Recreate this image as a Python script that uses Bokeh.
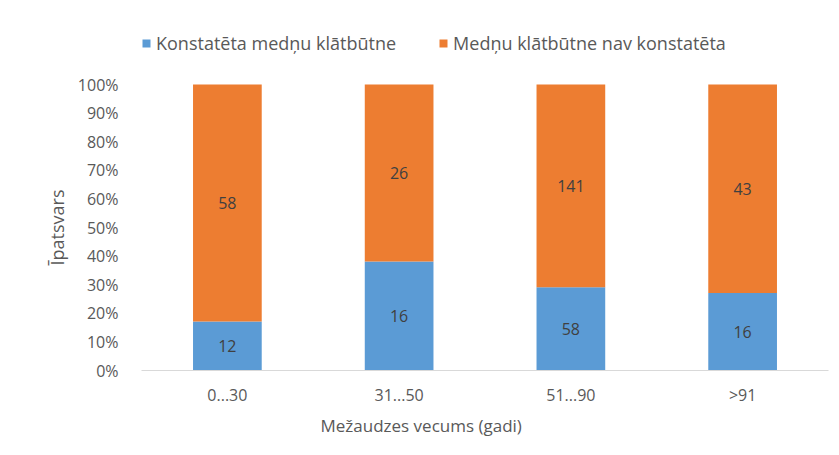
from bokeh.plotting import figure
from bokeh.models import ColumnDataSource, Legend, LegendItem, FixedTicker, NumeralTickFormatter, Range1d, FactorRange, LabelSet, Title
from bokeh.core.properties import value
from bokeh.embed import file_html
from bokeh.resources import INLINE

categories = ["0...30", "31...50", "51...90", ">91"]
present = [12, 16, 58, 16]
absent = [58, 26, 141, 43]
series_names = ["Konstatēta medņu klātbūtne", "Medņu klātbūtne nav konstatēta"]
y_ticks = [0, 0.1, 0.2, 0.3, 0.4, 0.5, 0.6, 0.7, 0.8, 0.9, 1.0]
x_title = "Mežaudzes vecums (gadi)"
y_title = "Īpatsvars"

totals = [a + b for a, b in zip(present, absent)]
p_share = [a / t for a, t in zip(present, totals)]
a_share = [b / t for b, t in zip(absent, totals)]

src = ColumnDataSource(dict(
    cat=categories,
    p_top=p_share,
    a_top=[1.0] * len(categories),
    p_mid=[s / 2 for s in p_share],
    a_mid=[s + a / 2 for s, a in zip(p_share, a_share)],
    p_lbl=[str(v) for v in present],
    a_lbl=[str(v) for v in absent],
))

FONT = "Open Sans"
TXT = "#595959"

# frame extends above 100% to host the legend (100% at 286 px above the axis)
p = figure(x_range=FactorRange(*categories, range_padding=0), y_range=Range1d(0, 1 + 54 / 286),
           frame_width=687, frame_height=340,
           min_border_left=141, min_border_right=10, min_border_top=30, min_border_bottom=84,
           output_backend="svg", toolbar_location=None, outline_line_color=None,
           background_fill_color="white", border_fill_color="white")

b1 = p.vbar(x="cat", bottom=0, top="p_top", width=0.4, source=src,
            fill_color="#5B9BD5", line_color=None)
b2 = p.vbar(x="cat", bottom="p_top", top="a_top", width=0.4, source=src,
            fill_color="#ED7D31", line_color=None)

for ycol, tcol in (("p_mid", "p_lbl"), ("a_mid", "a_lbl")):
    p.add_layout(LabelSet(x="cat", y=ycol, text=tcol, source=src,
                          text_align="center", text_baseline="middle",
                          text_font=value(FONT), text_font_size="16px", text_color="#404040"))

p.xgrid.visible = False
p.ygrid.visible = False

p.yaxis.ticker = FixedTicker(ticks=y_ticks)
p.yaxis.formatter = NumeralTickFormatter(format="0%")
p.yaxis.axis_line_color = None
p.yaxis.major_tick_line_color = None
p.yaxis.minor_tick_line_color = None
p.yaxis.major_label_text_font = FONT
p.yaxis.major_label_text_font_size = "16px"
p.yaxis.major_label_text_color = TXT
p.yaxis.major_label_standoff = 17

# y-axis title is centred on the 0-100% span, not on the extended frame
p.add_layout(Title(text=y_title, align="left", offset=105, standoff=12,
                   text_font=FONT, text_font_size="18px", text_font_style="normal",
                   text_color=TXT), "left")

p.xaxis.axis_line_color = "#D9D9D9"
p.xaxis.axis_line_width = 1
p.xaxis.major_tick_line_color = None
p.xaxis.minor_tick_line_color = None
p.xaxis.major_label_text_font = FONT
p.xaxis.major_label_text_font_size = "16px"
p.xaxis.major_label_text_color = TXT
p.xaxis.major_label_standoff = 7

# x-axis title is centred on the whole chart, not on the plot area
p.add_layout(Title(text=x_title, align="left", offset=179, standoff=7,
                   text_font=FONT, text_font_size="17px", text_font_style="normal",
                   text_color=TXT), "below")

legend = Legend(items=[LegendItem(label=series_names[0], renderers=[b1]),
                       LegendItem(label=series_names[1], renderers=[b2])],
                orientation="horizontal", location=(0, 315),
                label_text_font=FONT, label_text_font_size="18px", label_text_color=TXT,
                glyph_width=10, glyph_height=10, spacing=42, label_standoff=5,
                border_line_color=None, background_fill_alpha=0, padding=0, margin=0)
p.add_layout(legend, "center")

open("out.html", "w").write(file_html(p, INLINE))
